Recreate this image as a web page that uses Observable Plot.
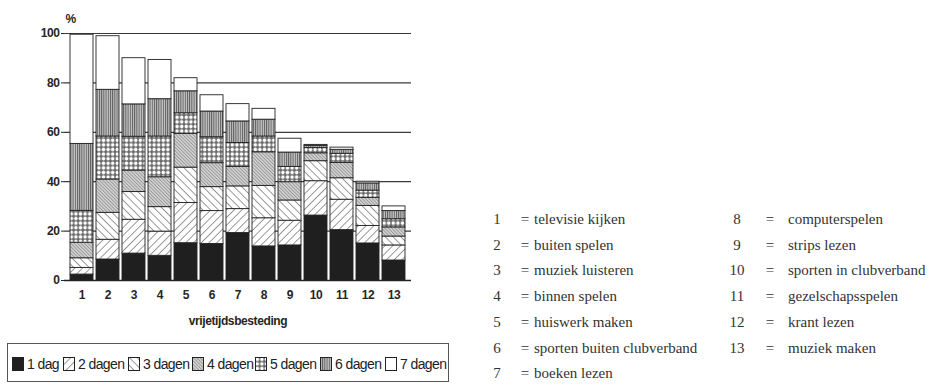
<!DOCTYPE html>
<html>
<head>
<meta charset="utf-8">
<script src="https://cdn.jsdelivr.net/npm/d3@7"></script>
<script src="https://cdn.jsdelivr.net/npm/@observablehq/plot@0.6"></script>
<style>
  html, body { margin: 0; padding: 0; background: #fff; }
  body { width: 931px; height: 385px; position: relative; overflow: hidden; }
  #chart { position: absolute; left: 0; top: 0; }
  .sans { font-family: "Liberation Sans", Arial, sans-serif; color: #222; }
  #legend { position: absolute; left: 7px; top: 343px; width: 442px; height: 39px; border: 1px solid #555; box-sizing: border-box; }
  .li { position: absolute; top: 11px; height: 18px; display: flex; align-items: center; font-size: 14px; letter-spacing: -0.6px; white-space: nowrap; }
  .li svg { margin-right: 2px; flex: none; }
  .list { position: absolute; font-family: "Liberation Serif", "Times New Roman", serif; font-size: 15px; color: #333; line-height: 18px; }
</style>
</head>
<body>
<svg width="0" height="0" style="position:absolute">
  <defs>
    <pattern id="p1" patternUnits="userSpaceOnUse" width="4" height="4">
      <rect width="4" height="4" fill="#1f1f1f"/>
    </pattern>
    <pattern id="p2" patternUnits="userSpaceOnUse" width="5.5" height="5.5" patternTransform="rotate(45)">
      <rect width="5.5" height="5.5" fill="#fff"/>
      <line x1="0" y1="0" x2="0" y2="5.5" stroke="#333" stroke-width="1"/>
    </pattern>
    <pattern id="p3" patternUnits="userSpaceOnUse" width="5.5" height="5.5" patternTransform="rotate(-45)">
      <rect width="5.5" height="5.5" fill="#fff"/>
      <line x1="0" y1="0" x2="0" y2="5.5" stroke="#333" stroke-width="1"/>
    </pattern>
    <pattern id="p4" patternUnits="userSpaceOnUse" width="2.4" height="2.4" patternTransform="rotate(-45)">
      <rect width="2.4" height="2.4" fill="#d0d0d0"/>
      <line x1="0" y1="0" x2="0" y2="2.4" stroke="#666" stroke-width="0.9"/>
    </pattern>
    <pattern id="p5" patternUnits="userSpaceOnUse" width="4.6" height="4.6">
      <rect width="4.6" height="4.6" fill="#6a6a6a"/>
      <circle cx="2.3" cy="2.3" r="1.75" fill="#fff"/>
    </pattern>
    <pattern id="p6" patternUnits="userSpaceOnUse" width="2.2" height="4">
      <rect width="2.2" height="4" fill="#c4c4c4"/>
      <line x1="0.5" y1="0" x2="0.5" y2="4" stroke="#555" stroke-width="0.9"/>
    </pattern>
    <pattern id="p7" patternUnits="userSpaceOnUse" width="4" height="4">
      <rect width="4" height="4" fill="#fff"/>
    </pattern>
  </defs>
</svg>
<div id="chart"></div>
<div id="legend" class="sans"></div>
<div id="list"></div>
<script>
// ---- data ----
const categories = ["1","2","3","4","5","6","7","8","9","10","11","12","13"];
const series = ["1 dag","2 dagen","3 dagen","4 dagen","5 dagen","6 dagen","7 dagen"];
const dag1    = [2.4, 8.5, 10.9, 10.0, 15.1, 14.8, 19.2, 13.8, 14.2, 26.3, 20.4, 15.0, 8.1];
const dagen2  = [2.7, 8.0, 13.7, 9.8, 16.3, 13.3, 9.7, 11.4, 10.0, 13.9, 12.3, 7.1, 6.1];
const dagen3  = [3.9, 10.9, 11.2, 9.9, 14.3, 9.7, 9.2, 13.1, 8.2, 8.1, 8.7, 8.1, 3.6];
const dagen4  = [6.3, 13.5, 8.7, 12.1, 13.7, 9.7, 7.9, 13.6, 7.4, 3.2, 6.2, 3.3, 3.7];
const dagen5  = [12.9, 17.4, 13.7, 16.5, 8.3, 10.5, 9.7, 6.4, 6.2, 2.1, 3.7, 2.9, 3.3];
const dagen6  = [27.1, 18.9, 13.1, 15.1, 8.9, 10.4, 8.7, 6.8, 5.8, 0.9, 1.6, 2.9, 3.3];
const dagen7  = [44.2, 21.7, 18.7, 15.9, 5.3, 6.6, 7.0, 4.4, 5.6, 0.4, 0.9, 0.7, 1.9];
const yTicks = [0, 20, 40, 60, 80, 100];
const activities = ["televisie kijken","buiten spelen","muziek luisteren","binnen spelen","huiswerk maken","sporten buiten clubverband","boeken lezen","computerspelen","strips lezen","sporten in clubverband","gezelschapsspelen","krant lezen","muziek maken"];
const patternIds = ["p1","p2","p3","p4","p5","p6","p7"];

const seriesValues = [dag1, dagen2, dagen3, dagen4, dagen5, dagen6, dagen7];
const rows = [];
series.forEach((s, i) => categories.forEach((c, j) => rows.push({cat: c, series: s, value: seriesValues[i][j]})));

const chart = Plot.plot({
  width: 460,
  height: 335,
  marginLeft: 64,
  marginRight: 49,
  marginTop: 33,
  marginBottom: 55,
  style: {fontFamily: '"Liberation Sans", Arial, sans-serif', fontSize: "12px", color: "#262626", background: "transparent"},
  x: {domain: categories, padding: 0.12, label: "vrijetijdsbesteding", labelAnchor: "center", labelOffset: 44, tickSize: 0, tickPadding: 10},
  y: {domain: [0, 100], ticks: yTicks, label: null, tickSize: 3, tickPadding: 2},
  color: {type: "ordinal", domain: series, range: patternIds.map(d => `url(#${d})`)},
  marks: [
    Plot.ruleY(yTicks.slice(1), {stroke: "#3a3a3a", strokeWidth: 1.2}),
    Plot.barY(rows, Plot.stackY({x: "cat", y: "value", fill: "series", stroke: "#222", strokeWidth: 0.9})),
    Plot.ruleY([0], {stroke: "#222", strokeWidth: 1.3}),
    Plot.text(["%"], {frameAnchor: "top-left", dx: 1, dy: -19, fontSize: 12})
  ]
});
chart.querySelectorAll("text").forEach(t => {
  t.setAttribute("font-weight", "bold");
  t.setAttribute("letter-spacing", "-0.4");
});
document.getElementById("chart").appendChild(chart);

// legend
const legendX = [4, 55, 120, 184, 247, 312, 377];
const legend = document.getElementById("legend");
series.forEach((s, i) => {
  const d = document.createElement("div");
  d.className = "li";
  d.style.left = legendX[i] + "px";
  d.innerHTML = `<svg width="13" height="15"><rect x="0.5" y="0.5" width="11" height="13" fill="url(#${patternIds[i]})" stroke="#222" stroke-width="1"/></svg><span>${s}</span>`;
  legend.appendChild(d);
});

// activity list
const list = document.getElementById("list");
activities.forEach((a, i) => {
  const col = i < 7 ? 0 : 1;
  const row = col ? i - 7 : i;
  const y = 219 + row * 25.7 - 9;
  const numX = col ? 737 : 497;
  const eqX = col ? 770 : 525;
  const txtX = col ? 788 : 534;
  const n = document.createElement("div");
  n.className = "list";
  n.style.left = (numX - 20) + "px"; n.style.top = y + "px"; n.style.width = "40px"; n.style.textAlign = "center";
  n.textContent = categories[i];
  const e = document.createElement("div");
  e.className = "list";
  e.style.left = (eqX - 10) + "px"; e.style.top = y + "px"; e.style.width = "20px"; e.style.textAlign = "center";
  e.textContent = "=";
  const t = document.createElement("div");
  t.className = "list";
  t.style.left = txtX + "px"; t.style.top = y + "px"; t.style.whiteSpace = "nowrap";
  t.textContent = a;
  list.append(n, e, t);
});
</script>
</body>
</html>
